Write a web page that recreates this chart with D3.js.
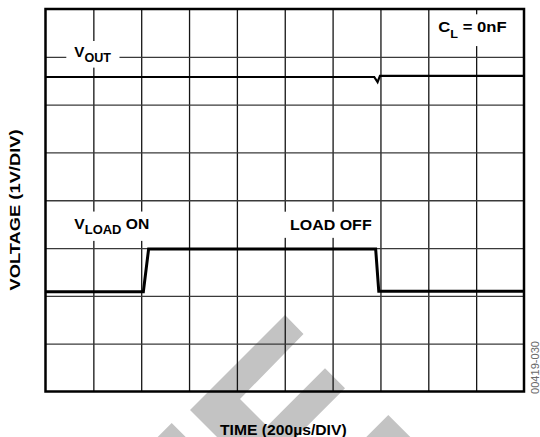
<!DOCTYPE html>
<html><head><meta charset="utf-8">
<script src="https://cdn.jsdelivr.net/npm/d3@7"></script>
<style>
html,body{margin:0;padding:0;background:#fff;}
svg{display:block;}
text{font-family:"Liberation Sans",Arial,Helvetica,sans-serif;font-weight:bold;white-space:pre;}
</style></head>
<body><svg id="c" width="540" height="437"></svg>
<script>
// ---- data ----
const timeDomainUs = [0, 2000];          // 10 divisions x 200 µs
const voltDomainDiv = [0, 8];            // 8 divisions x 1 V
const xGridUs = [200, 400, 600, 800, 1000, 1200, 1400, 1600, 1800];
const yGridDiv = [1, 2, 3, 4, 5, 6, 7];

const voutTime = [0, 1374, 1388, 1398, 2000];
const voutDiv  = [6.578, 6.578, 6.47, 6.603, 6.603];

const vloadTime = [0, 409, 431, 1380, 1393, 2000];
const vloadDiv  = [2.087, 2.087, 2.98, 2.98, 2.095, 2.095];

const xTitle = "TIME (200µs/DIV)";
const yTitle = "VOLTAGE (1V/DIV)";
const figId = "00419-030";

// ---- layout ----
const svg = d3.select("#c");
const W = 540, H = 437;
const plot = {l: 45.5, r: 524, t: 9, b: 391.5};
const x = d3.scaleLinear().domain(timeDomainUs).range([plot.l, plot.r]);
const y = d3.scaleLinear().domain(voltDomainDiv).range([plot.b, plot.t]);

svg.append("rect").attr("width", W).attr("height", H).attr("fill", "#fff");

// watermark (decorative, pixel space)
const watermark = [
  [[285,315],[303.5,334],[240,399],[278,437],[217,437],[190,410]],
  [[325,368.3],[345,388.3],[296.3,437],[256.3,437]],
  [[171.7,423],[185.7,437],[157.7,437]],
  [[388.3,415],[410.3,437],[366.3,437]]
];
svg.append("g").selectAll("polygon").data(watermark).join("polygon")
  .attr("points", d => d.map(p => p.join(",")).join(" "))
  .attr("fill", "#c3c3c3");

// grid
const gh = plot.b - plot.t, gw = plot.r - plot.l;
const gx = svg.append("g").attr("transform", `translate(0,${plot.b})`)
  .call(d3.axisBottom(x).tickValues(xGridUs).tickSize(gh).tickSizeOuter(0).tickFormat(""));
gx.select(".domain").remove();
gx.selectAll("line").attr("y2", -gh).attr("stroke", "#151515").attr("stroke-width", 1.3);
const gy = svg.append("g").attr("transform", `translate(${plot.l},0)`)
  .call(d3.axisLeft(y).tickValues(yGridDiv).tickSize(gw).tickSizeOuter(0).tickFormat(""));
gy.select(".domain").remove();
gy.selectAll("line").attr("x2", gw).attr("stroke", "#3a3a3a").attr("stroke-width", 1.3);

// labels with white boxes
const boxLayer = svg.append("g");
const textLayer = svg.append("g");
function label(parts, x0, base, targetW, pad) {
  const g = textLayer.append("g");
  const t = g.append("text").attr("x", 0).attr("y", 0).attr("fill", "#000");
  let cur = 0;
  parts.forEach(p => {
    const dy = (p.dy || 0) - cur; cur = p.dy || 0;
    t.append("tspan").attr("font-size", p.size).attr("dy", dy).text(p.t);
  });
  const w = t.node().getComputedTextLength();
  const s = targetW / w;
  g.attr("transform", `translate(${x0},${base}) scale(${s},1)`);
  if (pad) {
    const bb = t.node().getBBox();
    boxLayer.append("rect")
      .attr("x", x0 + bb.x * s - pad[0]).attr("y", base + bb.y - pad[1])
      .attr("width", bb.width * s + 2 * pad[0]).attr("height", bb.height + 2 * pad[1])
      .attr("fill", "#fff");
  }
  return g;
}
label([{t:"V", size:14.5},{t:"OUT", size:12, dy:5}], 74.3, 56.7, 36.7, [8,3]);
label([{t:"C", size:14.5},{t:"L", size:11, dy:6},{t:" = 0nF", size:14.5, dy:0}], 438.3, 32.3, 68.4, [8,5]);
label([{t:"V", size:14.5},{t:"LOAD", size:12, dy:5},{t:" ON", size:14.5, dy:0}], 74.3, 229, 75, [8,4]);
label([{t:"LOAD OFF", size:14.5}], 290, 230, 81.7, [8,5]);

// traces
const line = d3.line().x(d => x(d[0])).y(d => y(d[1]));
svg.append("path").datum(d3.zip(voutTime, voutDiv)).attr("d", line)
  .attr("fill", "none").attr("stroke", "#000").attr("stroke-width", 2.2);
svg.append("path").datum(d3.zip(vloadTime, vloadDiv)).attr("d", line)
  .attr("fill", "none").attr("stroke", "#000").attr("stroke-width", 3);

// frame
svg.append("rect").attr("x", plot.l).attr("y", plot.t).attr("width", gw).attr("height", gh)
  .attr("fill", "none").attr("stroke", "#000").attr("stroke-width", 2.5);

// axis titles
label([{t:xTitle, size:14.5}], 220, 435, 126.7, null);
const yt = svg.append("g").attr("transform", "translate(20,210) rotate(-90)");
const ytt = yt.append("text").attr("text-anchor", "middle").attr("font-size", 14.5).text(yTitle);
const yw = ytt.node().getComputedTextLength();
ytt.attr("transform", `scale(${161.4 / yw},1)`);
const ft = svg.append("g").attr("transform", "translate(539,367.5) rotate(-90)");
const ftt = ft.append("text").attr("text-anchor", "middle").attr("font-size", 10)
  .style("font-weight", "normal").attr("fill", "#6a6a6a").text(figId);
const fw = ftt.node().getComputedTextLength();
ftt.attr("transform", `scale(${53 / fw},1)`);
</script></body></html>
